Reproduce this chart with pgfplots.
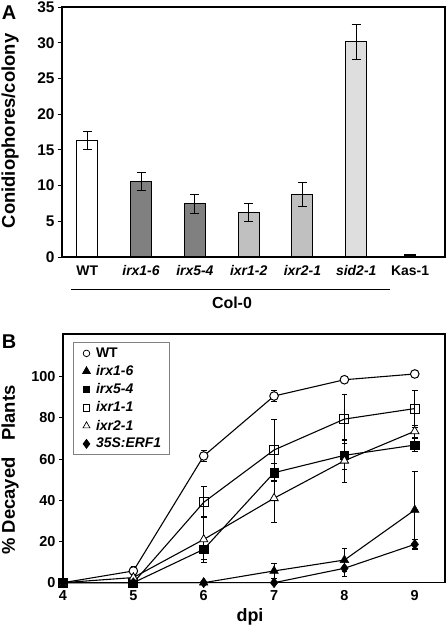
\documentclass[border=0pt]{standalone}
\usepackage{pgfplots}
\pgfplotsset{compat=1.18}
\usepackage{fontspec}
\setmainfont{Liberation Sans}
\definecolor{darkg}{RGB}{128,128,128}
\definecolor{midg}{RGB}{192,192,192}
\definecolor{lightg}{RGB}{222,222,222}
\pgfplotsset{mylegimg/.style={legend image code/.code={%
  \path (0bp,0bp) (14bp,0bp);
  \draw[##1] plot coordinates {(8bp,0bp)};}}}
\begin{document}
\begin{tikzpicture}[x=1bp,y=1bp]
\useasboundingbox (0,0) rectangle (448,630);
% ---------------- Panel A ----------------
\begin{axis}[at={(62bp,373bp)}, anchor=south west, scale only axis,
  width=383bp, height=250bp,
  xmin=-0.47, xmax=6.65, ymin=0, ymax=35,
  ytick={0,5,...,35}, xtick={0,...,6},
  xticklabels={WT,\textit{irx1-6},\textit{irx5-4},\textit{ixr1-2},\textit{ixr2-1},\textit{sid2-1},Kas-1},
  axis line style={line width=1.1pt},
  tick align=outside, major tick length=4bp,
  x tick style={draw=none}, y tick style={line width=0.9pt, black},
  ytick pos=left,
  /pgf/number format/assume math mode=true,
  yticklabel style={font=\bfseries\fontsize{15.5}{17}\selectfont},
  xticklabel style={font=\bfseries\fontsize{14}{16}\selectfont, yshift=-1bp},
  clip=false]
\addplot[ybar, bar shift=0pt, bar width=21bp, fill=white, draw=black, line width=1pt,
  error bars/.cd, y dir=both, y explicit,
  error bar style={line width=1pt, black}, error mark options={rotate=90, mark size=4.5bp, line width=1pt, black}]
  coordinates {(0,16.3) +- (0,1.2)};
\addplot[ybar, bar shift=0pt, bar width=21bp, fill=darkg, draw=black, line width=1pt,
  error bars/.cd, y dir=both, y explicit,
  error bar style={line width=1pt, black}, error mark options={rotate=90, mark size=4.5bp, line width=1pt, black}]
  coordinates {(1,10.55) +- (0,1.3) (2,7.45) +- (0,1.35)};
\addplot[ybar, bar shift=0pt, bar width=21bp, fill=midg, draw=black, line width=1pt,
  error bars/.cd, y dir=both, y explicit,
  error bar style={line width=1pt, black}, error mark options={rotate=90, mark size=4.5bp, line width=1pt, black}]
  coordinates {(3,6.25) +- (0,1.3) (4,8.7) +- (0,1.7)};
\addplot[ybar, bar shift=0pt, bar width=21bp, fill=lightg, draw=black, line width=1pt,
  error bars/.cd, y dir=both, y explicit,
  error bar style={line width=1pt, black}, error mark options={rotate=90, mark size=4.5bp, line width=1pt, black}]
  coordinates {(5,30.1) +- (0,2.5)};
\addplot[ybar, bar shift=0pt, bar width=11bp, fill=black, draw=black, line width=0.5pt]
  coordinates {(6,0.4)};
\draw[line width=1pt] (axis cs:-0.3,-4.5) -- (axis cs:5.63,-4.5);
\node[font=\bfseries\fontsize{16}{18}\selectfont] at (axis cs:2.69,-6.4) {Col-0};
\end{axis}
\node[rotate=90, font=\bfseries\fontsize{18.5}{20}\selectfont] at (10,499) {Conidiophores/colony};
\node[font=\bfseries\fontsize{20}{22}\selectfont] at (9,617) {A};
% ---------------- Panel B ----------------
\begin{axis}[at={(63bp,47.3bp)}, anchor=south west, scale only axis,
  width=382bp, height=248.7bp,
  xmin=4, xmax=9.43, ymin=0, ymax=120.7,
  ytick={0,20,...,100}, xtick={4,...,9},
  axis line style={line width=1.1pt},
  tick align=outside, major tick length=4bp,
  x tick style={draw=none}, y tick style={line width=0.9pt, black},
  ytick pos=left,
  /pgf/number format/assume math mode=true,
  ticklabel style={font=\bfseries\fontsize{14.5}{16}\selectfont},
  clip=false,
  legend style={at={(0.025,0.966)}, anchor=north west, draw=gray, line width=0.8pt,
    font=\bfseries\fontsize{14}{16}\selectfont, row sep=2.6bp, inner xsep=5bp, inner ysep=3bp,
    nodes={inner xsep=3bp}},
  legend cell align=left,
  mylegimg,
  every axis plot/.append style={line width=1.1pt, black},
  error bars/error bar style={line width=1pt, black},
  error bars/error mark options={rotate=90, mark size=2.8bp, line width=1pt, black},
  ]
% WT
\addplot[forget plot, mark=*, mark size=4.3bp, mark options={fill=white, line width=1pt},
  error bars/.cd, y dir=both, y explicit] coordinates {
  (4,0) +- (0,0) (5,5.7) +- (0,2) (6,61.5) +- (0,2.5) (7,90.6) +- (0,2.5) (8,98.5) +- (0,0) (9,101.3) +- (0,1.5)};
% irx1-6
\addplot[forget plot, mark=triangle*, mark size=5bp, mark options={fill=black, line width=0.5pt},
  error bars/.cd, y dir=both, y explicit] coordinates {
  (4,0) +- (0,0) (5,0) +- (0,0) (6,0) +- (0,0) (7,5.7) +- (0,3.7) (8,11) +- (0,5.5) (9,35.3) +- (0,18.7)};
% irx5-4
\addplot[forget plot, mark=square*, mark size=4.3bp, mark options={fill=black, line width=0.5pt},
  error bars/.cd, y dir=both, y explicit] coordinates {
  (4,0) +- (0,0) (5,0) +- (0,0) (6,16.2) +- (0,5) (7,53.4) +- (0,4.5) (8,61.8) +- (0,7) (9,66.8) +- (0,3)};
% ixr1-1
\addplot[forget plot, mark=square, mark size=4.5bp, mark options={fill=white, line width=1pt},
  error bars/.cd, y dir=both, y explicit] coordinates {
  (4,0) +- (0,0) (5,0) +- (0,0) (6,39) +- (0,7.5) (7,64.4) +- (0,15) (8,79.4) +- (0,12) (9,84.5) +- (0,9)};
% ixr2-1
\addplot[forget plot, mark=triangle*, mark size=4.8bp, mark options={fill=white, line width=0.8pt},
  error bars/.cd, y dir=both, y explicit] coordinates {
  (4,0) +- (0,0) (5,2.5) +- (0,2) (6,21) +- (0,11) (7,41) +- (0,11.7) (8,59.2) +- (0,10.5) (9,73.5) +- (0,3)};
% 35S:ERF1
\addplot[forget plot, mark=diamond*, mark size=5bp, mark options={fill=black, line width=0.5pt},
  error bars/.cd, y dir=both, y explicit] coordinates {
  (4,0) +- (0,0) (5,0) +- (0,0) (6,0) +- (0,0) (7,0) +- (0,0) (8,7) +- (0,4) (9,18.6) +- (0,2.5)};
\addlegendimage{only marks, mark=o, mark size=3.3bp, mark options={line width=0.8pt}}
\addlegendimage{only marks, mark=triangle*, mark size=4.2bp}
\addlegendimage{only marks, mark=square*, mark size=3bp}
\addlegendimage{only marks, mark=square, mark size=3.3bp, mark options={line width=0.7pt}}
\addlegendimage{only marks, mark=triangle, mark size=4bp, mark options={line width=0.7pt}}
\addlegendimage{only marks, mark=diamond*, mark size=4.2bp}
\legend{WT,\textit{irx1-6},\textit{irx5-4},\textit{ixr1-1},\textit{ixr2-1},\textit{35S:ERF1}}
\end{axis}
\node[rotate=90, font=\bfseries\fontsize{18.5}{20}\selectfont] at (10,160) {\%\ Decayed\hspace{0.9em}Plants};
\node[font=\bfseries\fontsize{20}{22}\selectfont] at (9,288) {B};
\node[font=\bfseries\fontsize{18}{20}\selectfont] at (250,13) {dpi};
\end{tikzpicture}
\end{document}
